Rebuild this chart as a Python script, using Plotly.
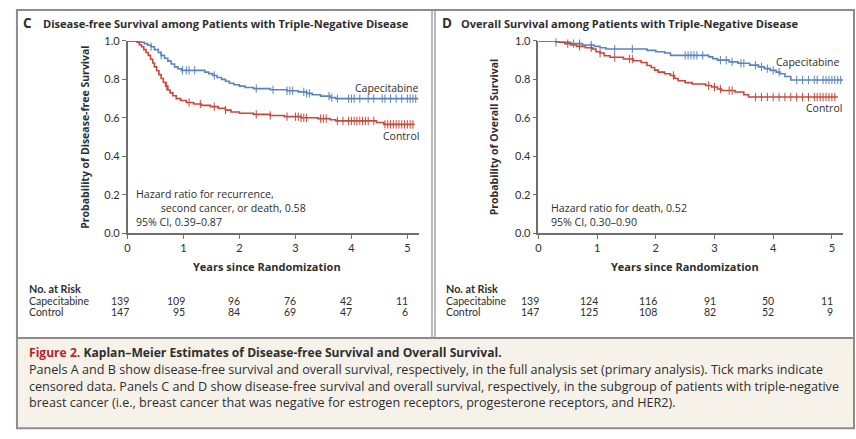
import plotly.graph_objects as go
import numpy as np

W, H = 856, 439

# ---------------- data ----------------
# Panel C: disease-free survival (step knots)
c_cape_t = [0, 0.23, 0.30, 0.36, 0.42, 0.48, 0.55, 0.60, 0.66, 0.72, 0.78, 0.84, 0.90, 0.96,
            1.38, 1.45, 1.52, 1.60, 1.68, 1.75, 1.82, 1.90, 2.00, 2.10, 2.25, 2.55, 2.85,
            3.05, 3.20, 3.30, 3.45, 3.62, 3.72, 5.20]
c_cape_s = [1.0, 0.993, 0.986, 0.978, 0.97, 0.955, 0.94, 0.925, 0.91, 0.895, 0.88, 0.865, 0.855, 0.847,
            0.838, 0.83, 0.82, 0.81, 0.80, 0.79, 0.78, 0.772, 0.765, 0.758, 0.752, 0.746, 0.741,
            0.735, 0.727, 0.72, 0.713, 0.705, 0.70, 0.70]
c_ctrl_t = [0, 0.17, 0.21, 0.25, 0.29, 0.33, 0.37, 0.41, 0.45, 0.48, 0.52, 0.56, 0.60, 0.64, 0.68,
            0.72, 0.76, 0.81, 0.87, 0.95, 1.05, 1.18, 1.32, 1.48, 1.62, 1.75, 1.85, 2.00, 2.25,
            2.55, 2.80, 3.10, 3.40, 3.62, 3.72, 4.45, 4.58, 5.13]
c_ctrl_s = [1.0, 0.993, 0.98, 0.97, 0.955, 0.94, 0.925, 0.905, 0.885, 0.865, 0.845, 0.825, 0.805, 0.785, 0.765,
            0.745, 0.73, 0.715, 0.70, 0.69, 0.68, 0.672, 0.665, 0.658, 0.65, 0.64, 0.63, 0.624, 0.618,
            0.612, 0.606, 0.60, 0.596, 0.59, 0.584, 0.576, 0.566, 0.566]
c_cape_cens = [0.42, 0.60, 0.98, 1.05, 1.10, 1.20, 1.55, 2.30, 2.60, 2.85, 2.90, 2.95, 3.15, 3.20, 3.25,
               3.60, 3.65, 3.75, 3.95, 4.00, 4.05, 4.15, 4.30, 4.40, 4.55, 4.60, 4.70, 4.80, 4.90,
               5.00, 5.05, 5.10, 5.15]
c_ctrl_cens = [0.70, 1.10, 1.30, 1.55, 1.75, 2.30, 2.55, 2.85, 3.00, 3.05, 3.10, 3.15, 3.20, 3.45, 3.50,
               3.55, 3.75, 3.85, 3.95, 4.00, 4.05, 4.10, 4.15, 4.20, 4.25, 4.30, 4.40, 4.60, 4.65,
               4.70, 4.75, 4.80, 4.85, 4.90, 4.95, 5.00, 5.05, 5.10]

# Panel D: overall survival
d_cape_t = [0, 0.30, 0.55, 0.75, 0.95, 1.05, 1.15, 1.85, 2.00, 2.15, 2.25, 2.90, 2.97, 3.05, 3.25,
            3.40, 3.60, 3.75, 3.85, 3.95, 4.05, 4.12, 4.20, 4.30, 5.19]
d_cape_s = [1.0, 0.993, 0.986, 0.979, 0.972, 0.965, 0.958, 0.951, 0.944, 0.937, 0.925, 0.917, 0.908, 0.90, 0.891,
            0.884, 0.874, 0.865, 0.856, 0.847, 0.838, 0.829, 0.815, 0.797, 0.797]
d_ctrl_t = [0, 0.35, 0.45, 0.55, 0.65, 0.80, 0.92, 0.98, 1.05, 1.12, 1.22, 1.45, 1.62, 1.75, 1.85,
            1.92, 1.98, 2.04, 2.15, 2.25, 2.32, 2.38, 2.50, 2.62, 2.85, 2.95, 3.05, 3.12, 3.35,
            3.50, 3.58, 5.10]
d_ctrl_s = [1.0, 0.993, 0.986, 0.979, 0.972, 0.965, 0.958, 0.944, 0.937, 0.923, 0.915, 0.906, 0.897, 0.888, 0.872,
            0.862, 0.848, 0.838, 0.829, 0.82, 0.805, 0.793, 0.783, 0.776, 0.768, 0.76, 0.75, 0.742, 0.734,
            0.72, 0.708, 0.708]
d_cape_cens = [0.30, 0.60, 0.70, 0.90, 1.30, 1.60, 2.50, 2.55, 2.60, 2.65, 2.70, 2.80, 3.10, 3.20, 3.30,
               3.45, 3.50, 3.70, 3.80, 3.90, 4.00, 4.10, 4.40, 4.50, 4.60, 4.70, 4.75, 4.85, 4.90,
               4.95, 5.00, 5.05, 5.10, 5.15]
d_ctrl_cens = [0.50, 0.70, 0.90, 1.05, 1.30, 1.55, 1.60, 2.30, 2.90, 3.00, 3.10, 3.25, 3.30, 3.70, 3.80,
               3.90, 4.00, 4.10, 4.20, 4.30, 4.40, 4.50, 4.60, 4.70, 4.75, 4.80, 4.85, 4.90, 4.95,
               5.00, 5.05]

years = [0, 1, 2, 3, 4, 5]
y_ticks = [0.0, 0.2, 0.4, 0.6, 0.8, 1.0]
c_risk_cape = [139, 109, 96, 76, 42, 11]
c_risk_ctrl = [147, 95, 84, 69, 47, 6]
d_risk_cape = [139, 124, 116, 91, 50, 11]
d_risk_ctrl = [147, 125, 108, 82, 52, 9]

BLUE = "#5a82bf"
RED = "#c9473a"
TXT = "#2e2e2e"
FONT = "Lato"
FONT2 = "Open Sans"


def px(x):
    return x / W


def py(y):
    return 1 - y / H


def step_at(tt, ss, t):
    idx = np.searchsorted(np.array(tt), t, side="right") - 1
    return ss[max(idx, 0)]


fig = go.Figure()


def add_curve(tt, ss, cens, color, xa, ya):
    fig.add_trace(go.Scatter(x=tt, y=ss, mode="lines", line=dict(color=color, width=1.6, shape="hv"),
                             xaxis=xa, yaxis=ya, showlegend=False, cliponaxis=False, hoverinfo="skip"))
    fig.add_trace(go.Scatter(x=cens, y=[step_at(tt, ss, t) for t in cens], mode="markers",
                             marker=dict(symbol="line-ns", size=6, line=dict(color=color, width=1)),
                             xaxis=xa, yaxis=ya, showlegend=False, cliponaxis=False, hoverinfo="skip"))


add_curve(c_cape_t, c_cape_s, c_cape_cens, BLUE, "x", "y")
add_curve(c_ctrl_t, c_ctrl_s, c_ctrl_cens, RED, "x", "y")
add_curve(d_cape_t, d_cape_s, d_cape_cens, BLUE, "x2", "y2")
add_curve(d_ctrl_t, d_ctrl_s, d_ctrl_cens, RED, "x2", "y2")

ax_common = dict(showline=True, linecolor="#6f6f6f", linewidth=1.5, ticks="outside", ticklen=4,
                 tickwidth=1, tickcolor="#6f6f6f", showgrid=False, zeroline=False,
                 tickfont=dict(family=FONT, size=11, color=TXT), fixedrange=True)

ydom = [py(233), py(35)]
fig.update_layout(
    width=W, height=H, margin=dict(l=0, r=0, t=0, b=0),
    paper_bgcolor="white", plot_bgcolor="white", showlegend=False,
    xaxis=dict(domain=[px(125), px(417)], range=[0, 5.2], tickvals=years, anchor="y", **ax_common),
    yaxis=dict(domain=ydom, range=[0, 1], tickvals=y_ticks, tickformat=".1f", anchor="x", **ax_common),
    xaxis2=dict(domain=[px(537.3), px(843)], range=[0, 5.19], tickvals=years, anchor="y2", **ax_common),
    yaxis2=dict(domain=ydom, range=[0, 1], tickvals=y_ticks, tickformat=".1f", anchor="x2", **ax_common),
)

ann = []
LOFF = -4   # annotation box padding compensation (left anchored)
ROFF = 2


def text(x, y, s, size=11, bold=False, xanchor="left", color=TXT, xref="paper", yref="paper",
         xshift=None, family=FONT2):
    if bold:
        s = "<b>" + s + "</b>"
    if xshift is None:
        xshift = LOFF if xanchor == "left" else (ROFF if xanchor == "right" else 0)
    ann.append(dict(x=x, y=y, xref=xref, yref=yref, text=s, showarrow=False, xanchor=xanchor,
                    yanchor="middle", align=xanchor if xanchor != "center" else "center",
                    xshift=xshift, font=dict(family=family, size=size, color=color)))


# Panel titles
text(px(22), py(17), "C", size=13.5, bold=True)
text(px(42), py(17), "Disease-free Survival among Patients with Triple-Negative Disease", size=11.05, bold=True)
text(px(443), py(17), "D", size=13.5, bold=True)
text(px(462), py(17), "Overall Survival among Patients with Triple-Negative Disease", size=11.05, bold=True)

# Axis titles
text(2.5, py(267), "Years since Randomization", size=11, bold=True, xanchor="center", xref="x")
text(2.5, py(267), "Years since Randomization", size=11, bold=True, xanchor="center", xref="x2")
for xx, lab in [(82, "Probability of Disease-free Survival"), (493, "Probability of Overall Survival")]:
    ann.append(dict(x=px(xx), y=py(134), xref="paper", yref="paper", text="<b>" + lab + "</b>",
                    showarrow=False, textangle=-90, xanchor="center", yanchor="middle",
                    font=dict(family=FONT2, size=10.5, color=TXT)))

# Curve labels
text(px(417), py(83), "Capecitabine", size=10.5, xanchor="right")
text(px(417), py(133), "Control", size=10.5, xanchor="right")
text(px(840), py(57), "Capecitabine", size=10.5, xanchor="right")
text(px(842), py(104), "Control", size=10.5, xanchor="right")

# Hazard ratio text (multi-line blocks)
NB = "\u00a0"
text(px(135), py(207.5), "Hazard ratio for recurrence,<br>" + NB * 9 +
     "second cancer, or death, 0.58<br>95% CI, 0.39\u20130.87", size=10.6)
text(px(552), py(214), "Hazard ratio for death, 0.52<br>95% CI, 0.30\u20130.90", size=10.6)

# Risk tables
TF = FONT
for x0, xref, cape, ctrl in [(28, "x", c_risk_cape, c_risk_ctrl), (447, "x2", d_risk_cape, d_risk_ctrl)]:
    text(px(x0), py(290.5), "No. at Risk", size=10.8, bold=True, family=TF)
    text(px(x0), py(302.5), "Capecitabine", size=10.5, family=TF)
    text(px(x0), py(314.5), "Control", size=10.5, family=TF)
    for yr, a, b in zip(years, cape, ctrl):
        text(yr, py(302.5), str(a), size=10.5, xanchor="right", xref=xref, xshift=3, family=TF)
        text(yr, py(314.5), str(b), size=10.5, xanchor="right", xref=xref, xshift=3, family=TF)

# Caption
text(px(28), py(356.5), "<span style='color:#b3262c'>Figure 2.</span> Kaplan\u2013Meier Estimates of Disease-free Survival and Overall Survival.",
     size=12.1, bold=True)
cap_lines = [
    "Panels A and B show disease-free survival and overall survival, respectively, in the full analysis set (primary analysis). Tick marks indicate",
    "censored data. Panels C and D show disease-free survival and overall survival, respectively, in the subgroup of patients with triple-negative",
    "breast cancer (i.e., breast cancer that was negative for estrogen receptors, progesterone receptors, and HER2).",
]
for i, ln in enumerate(cap_lines):
    text(px(28), py(374 + 17 * i), ln, size=12.6)

fig.update_layout(annotations=ann)

GRAY = "#8c8c8c"
shapes = [
    dict(type="rect", xref="paper", yref="paper", x0=px(14), x1=px(854), y0=py(341), y1=py(434),
         fillcolor="#f6f2ea", line=dict(color=GRAY, width=2), layer="below"),
    dict(type="rect", xref="paper", yref="paper", x0=px(14), x1=px(854), y0=py(3), y1=py(341),
         fillcolor="rgba(0,0,0,0)", line=dict(color=GRAY, width=2)),
    dict(type="line", xref="paper", yref="paper", x0=px(430.5), x1=px(430.5), y0=py(3), y1=py(341),
         line=dict(color=GRAY, width=1.2)),
    dict(type="line", xref="paper", yref="paper", x0=px(433.5), x1=px(433.5), y0=py(3), y1=py(341),
         line=dict(color=GRAY, width=1.2)),
]
fig.update_layout(shapes=shapes)

fig.write_html("out.html")
